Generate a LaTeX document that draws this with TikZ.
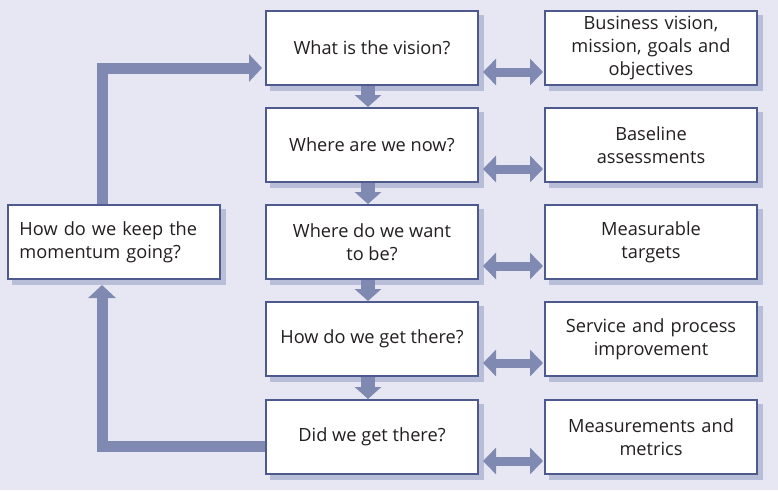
\documentclass[tikz,border=0pt]{standalone}
\usepackage{fontspec}
\setmainfont{Open Sans}
\usetikzlibrary{positioning,arrows.meta,backgrounds,calc}

\definecolor{bgcol}{HTML}{E6E7F2}
\definecolor{framecol}{HTML}{4E5A8E}
\definecolor{arrowcol}{HTML}{7F89B1}
\definecolor{shadecol}{HTML}{B8BDD8}
\definecolor{textcol}{HTML}{231F20}

\tikzset{
  qbox/.style={draw=framecol, line width=2pt, fill=white, text=textcol,
    minimum width=212pt, minimum height=74pt, align=center, inner sep=0pt,
    font=\fontsize{18.2}{23}\selectfont},
  abox/.style={qbox, text width=200pt},
  downarr/.style={draw=arrowcol, line width=14pt,
    -{Triangle[width=26pt,length=12pt]}},
  dblarr/.style={draw=arrowcol, line width=9pt,
    {Triangle[width=26pt,length=13pt]}-{Triangle[width=26pt,length=13pt]}},
  looparr/.style={draw=arrowcol, line width=11pt,
    -{Triangle[width=27pt,length=13pt]}}
}

\begin{document}
\begin{tikzpicture}[x=1pt, y=-1pt]

% questions
\node[qbox] (q1) at (372,48)  {What is the vision?};
\node[qbox] (q2) at (372,145) {Where are we now?};
\node[qbox] (q3) at (372,242) {Where do we want\\to be?};
\node[qbox] (q4) at (372,339) {How do we get there?};
\node[qbox] (q5) at (372,437) {Did we get there?};

% answers
\node[abox] (a1) at (651,48)  {Business vision,\\mission, goals and\\objectives};
\node[abox] (a2) at (651,145) {Baseline\\assessments};
\node[abox] (a3) at (651,242) {Measurable\\targets};
\node[abox] (a4) at (651,339) {Service and process\\improvement};
\node[abox] (a5) at (651,437) {Measurements and\\metrics};

\node[qbox, align=left, text width=188pt] (keep) at (113.5,242)
  {How do we keep the\\momentum going?};

% shadows
\begin{scope}[on background layer]
\fill[bgcol] (0,0) rectangle (778,490);
\foreach \n in {q1,q2,q3,q4,q5,a1,a2,a3,a4,a5,keep}
  \fill[shadecol] ([shift={(5pt,-5pt)}]\n.south west) rectangle ([shift={(5pt,-5pt)}]\n.north east);
\end{scope}
\useasboundingbox (0,0) rectangle (778,490);

% down arrows
\foreach \i/\j in {1/2,2/3,3/4,4/5}
  \draw[downarr] ([xshift=-4pt]q\i.south) -- ([xshift=-4pt]q\j.north);

% double arrows
\foreach \i in {1,...,5}
  \draw[dblarr] ([yshift=-24pt,xshift=4pt]q\i.east) -- ([yshift=-24pt,xshift=-1pt]a\i.west);

% loop back
\draw[looparr, shorten >=5pt] ([yshift=-9pt]q5.west) -| ([xshift=-11.5pt]keep.south);
\draw[looparr, shorten >=3pt] ([xshift=-11.5pt]keep.north) |- ([yshift=-20pt]q1.west);

\end{tikzpicture}
\end{document}
